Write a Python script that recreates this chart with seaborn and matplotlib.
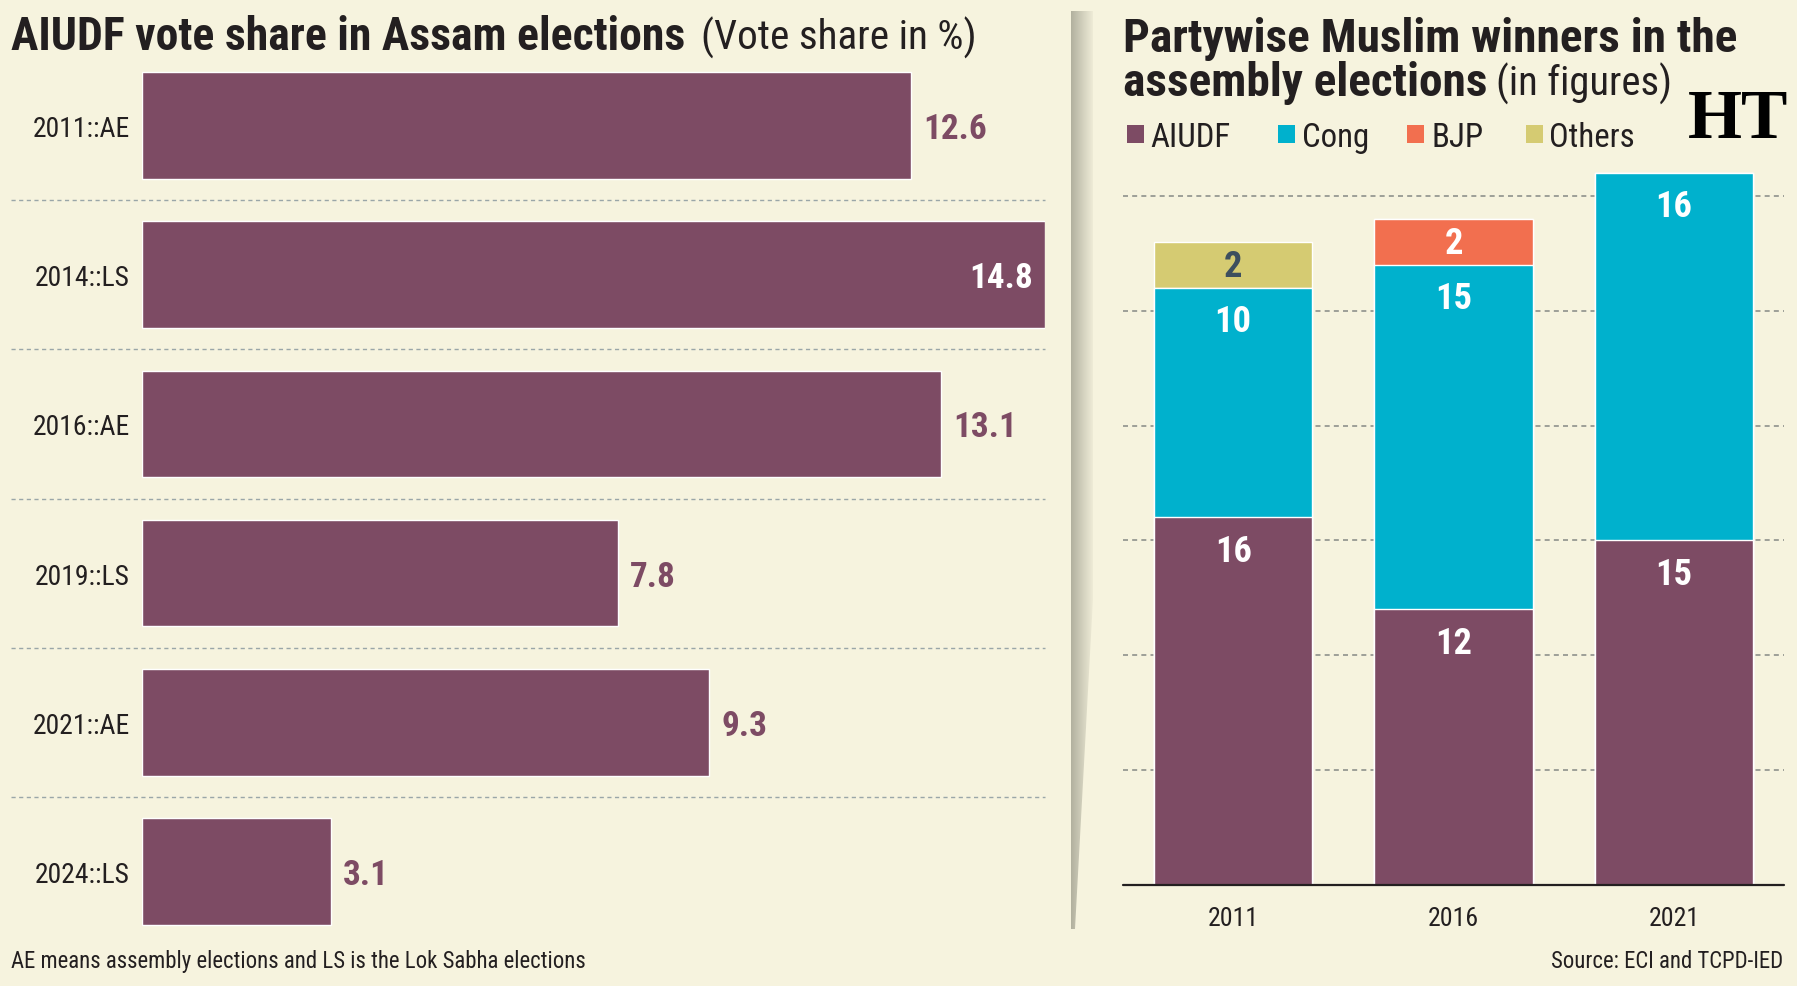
import numpy as np
import pandas as pd
import matplotlib
matplotlib.use("Agg")
import matplotlib.pyplot as plt
import seaborn as sns
from matplotlib import font_manager
from matplotlib.patches import Rectangle, Polygon
from matplotlib.colors import LinearSegmentedColormap

# ---------------- data ----------------
vote_labels = ["2011::AE", "2014::LS", "2016::AE", "2019::LS", "2021::AE", "2024::LS"]
vote_share = [12.6, 14.8, 13.1, 7.8, 9.3, 3.1]

years = ["2011", "2016", "2021"]
parties = ["AIUDF", "Cong", "BJP", "Others"]
aiudf = [16, 12, 15]
cong = [10, 15, 16]
bjp = [0, 2, 0]
others = [2, 0, 0]

# ---------------- style ----------------
BG = "#f6f3de"
PURPLE = "#7d4b64"
CONG_C = "#00b1cd"
BJP_C = "#f26f4f"
OTH_C = "#d5cb72"
DARK = "#231f20"
party_colors = [PURPLE, CONG_C, BJP_C, OTH_C]

sns.set_theme(style="white")

# pick a condensed sans font if one is installed
entries = font_manager.fontManager.ttflist
FONT, STRETCH = "Roboto", "normal"
pref_names = ["Roboto Condensed", "Liberation Sans Narrow", "Noto Sans Condensed",
              "Open Sans Condensed", "DejaVu Sans Condensed", "Noto Sans SemiCondensed"]
names = {e.name for e in entries}
found = False
for n in pref_names:
    if n in names:
        FONT, STRETCH, found = n, "normal", True
        break
if not found:
    for fam in ["Noto Sans", "Open Sans", "Roboto", "DejaVu Sans", "Lato", "Inter"]:
        conds = [e for e in entries if e.name == fam and str(e.stretch) in ("condensed", "semi-condensed")]
        if conds:
            FONT, STRETCH = fam, str(conds[0].stretch)
            break
plt.rcParams["font.family"] = [FONT, "DejaVu Sans"]
plt.rcParams["font.stretch"] = STRETCH

W, H = 1797, 987
fig = plt.figure(figsize=(W / 100, H / 100), dpi=100, facecolor=BG)
renderer = fig.canvas.get_renderer()


def fx(px):
    return px / W


def fy(py):
    return 1 - py / H


def size_for(text, width_px, weight="normal", ref=20):
    t = fig.text(0, 0, text, fontsize=ref, fontweight=weight)
    w = t.get_window_extent(renderer=renderer).width
    t.remove()
    return ref * width_px / w


# sizes fitted to the reference text widths
S_TITLE_L = size_for("AIUDF vote share in Assam elections", 672, "bold")
S_SUB_L = size_for("(Vote share in %)", 275)
S_TITLE_R = size_for("Partywise Muslim winners in the", 612, "bold")
S_SUB_R = size_for("(in figures)", 176)
S_LEG = size_for("AIUDFCongBJPOthers", 83 + 66 + 47 + 89)
S_TICK = size_for("2011::AE", 97)
S_YEAR = size_for("2011", 51)
S_VAL = size_for("12.6", 64, "bold")
S_SEG = size_for("16", 37, "bold")
S_FOOT = size_for("AE means assembly elections and LS is the Lok Sabha elections", 572)

# ---------------- left chart ----------------
axL = fig.add_axes([fx(142), fy(947), (1045 - 142) / W, (947 - 52) / H])
axL.set_facecolor("none")
df_vote = pd.DataFrame({"label": vote_labels, "share": vote_share})
sns.barplot(data=df_vote, x="share", y="label", orient="h", color=PURPLE,
            saturation=1, width=0.715, ax=axL)
axL.set_xlim(0, 14.8)
axL.set_ylim(5.5, -0.5)
for s in axL.spines.values():
    s.set_visible(False)
axL.set_xlabel("")
axL.set_ylabel("")
axL.set_xticks([])
axL.tick_params(axis="y", length=0, pad=9, labelsize=S_TICK, labelcolor=DARK)
x_start = -(142 - 11) / (1045 - 142)
for k in range(len(vote_labels) - 1):
    axL.axhline(k + 0.5, xmin=x_start, xmax=1, color="#9aa6a8", lw=1.0,
                dashes=(3, 2.5), clip_on=False, zorder=0)
for i, v in enumerate(vote_share):
    if v > 14.0:
        axL.text(v - 0.2, i + 0.02, f"{v}", ha="right", va="center", color="white",
                 fontsize=S_VAL, fontweight="bold")
    else:
        axL.text(v + 0.2, i + 0.02, f"{v}", ha="left", va="center", color=PURPLE,
                 fontsize=S_VAL, fontweight="bold")

# ---------------- right chart ----------------
axR = fig.add_axes([fx(1123), fy(886), (1784 - 1123) / W, 32 * 22.97 / H])
axR.set_facecolor("none")
df_seats = pd.DataFrame({"year": years, "AIUDF": aiudf, "Cong": cong,
                         "BJP": bjp, "Others": others})
cum = df_seats[parties].cumsum(axis=1)
for party, col in reversed(list(zip(parties, party_colors))):
    sns.barplot(x=df_seats["year"], y=cum[party], color=col, saturation=1,
                width=0.72, ax=axR, zorder=2)
axR.set_xlim(-0.5, 2.5)
axR.set_ylim(0, 32)
for s in axR.spines.values():
    s.set_visible(False)
axR.set_xlabel("")
axR.set_ylabel("")
axR.set_yticks([])
for g in range(5, 31, 5):
    axR.axhline(g, color="#8e918c", lw=1.2, dashes=(3, 2.5), zorder=0.5)
axR.axhline(0, color=DARK, lw=1.6, zorder=5, clip_on=False)
axR.set_xticks([0.5, 1.5], minor=True)
axR.tick_params(axis="x", which="major", length=0, pad=15, labelsize=S_YEAR,
                labelcolor=DARK)
axR.tick_params(axis="x", which="minor", direction="inout", length=24,
                width=1.0, color="#7c9aa5")
for i in range(len(years)):
    for party in parties:
        v = df_seats.loc[i, party]
        if v <= 0:
            continue
        top = cum.loc[i, party]
        y = top - min(1.45, v / 2 + 0.05)
        col = "#3d4f5e" if party == "Others" else "white"
        axR.text(i, y, f"{v}", ha="center", va="center", color=col,
                 fontsize=S_SEG, fontweight="bold", zorder=6)

# ---------------- separator ----------------
axS = fig.add_axes([fx(1066), fy(935), 30 / W, (935 - 12) / H])
axS.set_axis_off()
grad = np.linspace(0, 1, 60)[None, :]
cmap = LinearSegmentedColormap.from_list("sep", ["#afae9c", "#d3d1be", BG])
im = axS.imshow(grad, aspect="auto", cmap=cmap, extent=[1070, 1096, 935, 12])
axS.set_xlim(1066, 1096)
axS.set_ylim(935, 12)
poly = Polygon([(1071, 12), (1093, 12), (1093, 600), (1075, 930), (1071, 930)],
               closed=True, transform=axS.transData, facecolor="none", edgecolor="none")
axS.add_patch(poly)
im.set_clip_path(poly)

# ---------------- titles ----------------
fig.text(fx(11), fy(50), "AIUDF vote share in Assam elections", fontsize=S_TITLE_L,
         fontweight="bold", color=DARK, va="baseline", ha="left")
fig.text(fx(701), fy(50), "(Vote share in %)", fontsize=S_SUB_L, color=DARK,
         va="baseline", ha="left")
fig.text(fx(1123), fy(52), "Partywise Muslim winners in the", fontsize=S_TITLE_R,
         fontweight="bold", color=DARK, va="baseline", ha="left")
t_ae = fig.text(fx(1123), fy(96), "assembly elections", fontsize=S_TITLE_R,
                fontweight="bold", color=DARK, va="baseline", ha="left")
x_end = t_ae.get_window_extent(renderer=renderer).x1
fig.text((x_end + 9) / W, fy(96), "(in figures)", fontsize=S_SUB_R, color=DARK,
         va="baseline", ha="left")

# legend
sq_x = [1127, 1278, 1407, 1526]
lab_x = [1150, 1302, 1432, 1549]
for p, c, sx, lx in zip(parties, party_colors, sq_x, lab_x):
    fig.patches.append(Rectangle((fx(sx), fy(144)), 17 / W, 18 / H, facecolor=c,
                                 edgecolor="none", transform=fig.transFigure))
    fig.text(fx(lx), fy(147), p, fontsize=S_LEG, color=DARK, va="baseline", ha="left")

# HT logo
fig.text(fx(1738), fy(138), "HT", fontsize=50, fontweight="bold", color="black",
         family=["Liberation Serif", "DejaVu Serif"], stretch="normal",
         ha="center", va="baseline")

# footers
fig.text(fx(11), fy(968), "AE means assembly elections and LS is the Lok Sabha elections",
         fontsize=S_FOOT, color=DARK, va="baseline", ha="left")
fig.text(fx(1783), fy(968), "Source: ECI and TCPD-IED", fontsize=S_FOOT, color=DARK,
         va="baseline", ha="right")

fig.savefig("out.png", dpi=100, facecolor=BG)
